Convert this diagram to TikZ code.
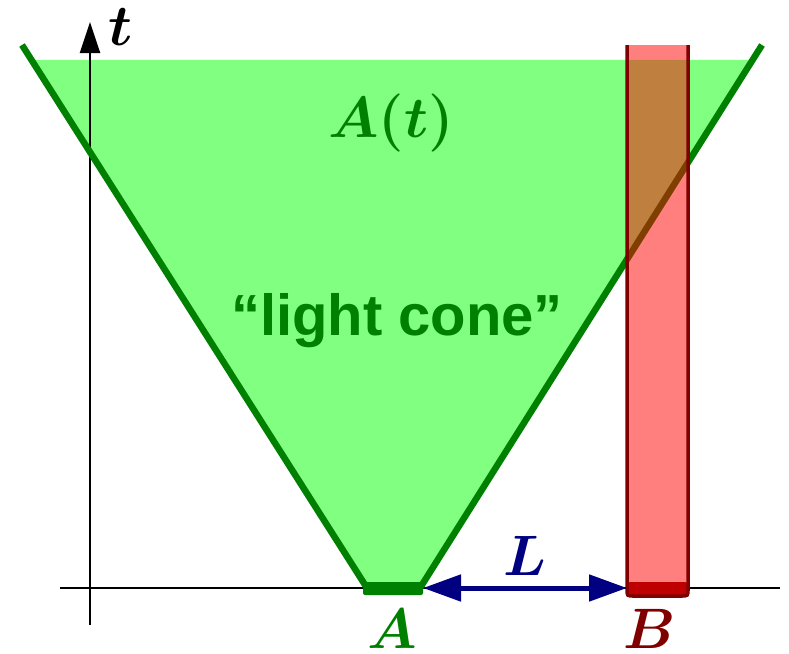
\RequirePackage{fix-cm}
\documentclass[tikz,border=0pt]{standalone}
\usepackage{fontspec}
\newfontfamily\helv{Liberation Sans}
\usetikzlibrary{arrows.meta,calc}
\definecolor{conegreen}{RGB}{0,128,0}
\definecolor{conefill}{RGB}{128,255,128}
\definecolor{bandred}{RGB}{128,0,0}
\definecolor{navyblue}{RGB}{0,0,128}
\tikzset{
  conestroke/.style={draw=conegreen, line width=6.5pt},
  axisline/.style={draw=black, line width=2.4pt},
  bigmath/.style={inner sep=0pt, anchor=base, font=\fontsize{57}{60}\selectfont\boldmath},
  midmath/.style={inner sep=0pt, anchor=base, font=\fontsize{58}{62}\selectfont\boldmath},
}
\begin{document}
\begin{tikzpicture}[x=1pt,y=-1pt]
\useasboundingbox (0,0) rectangle (789,653);
% key points
\coordinate (Abl) at (367,588);
\coordinate (Abr) at (420,588);
\coordinate (Ltop) at (22,45);
\coordinate (Rtop) at (762,45);
\coordinate (Lcut) at ($(Abl)!0.9724!(Ltop)$);
\coordinate (Rcut) at ($(Abr)!0.9724!(Rtop)$);
% cone fill
\fill[conefill] (Abl) -- (Abr) -- (Rcut) -- (Lcut) -- cycle;
% axes
\coordinate (xs) at (60,588);
\coordinate (xe) at (780,588);
\coordinate (ys) at (90,625);
\coordinate (ye) at (90,22);
\draw[axisline] (xs) -- (xe);
\draw[axisline, -{Triangle[length=31pt,width=20pt]}] (ys) -- (ye);
% cone lines
\draw[conestroke] (Ltop) -- (Abl);
\draw[conestroke] (Abr) -- (Rtop);
% A interval
\fill[conegreen, rounded corners=2pt] (363,582) rectangle (423,595);
% B interval
\fill[bandred, rounded corners=3pt] (627,582) rectangle (688,596);
% band B(t)
\fill[red, fill opacity=0.5] (627,45) -- (627,589) .. controls (627,596) .. (634,596) -- (681,596) .. controls (688,596) .. (688,589) -- (688,45) -- cycle;
\draw[bandred, line width=3.5pt] (627,45) -- (627,589) .. controls (627,596) .. (634,596) -- (681,596) .. controls (688,596) .. (688,589) -- (688,45);
% L arrow
\coordinate (Aend) at (423,588);
\coordinate (Bend) at (627,588);
\draw[navyblue, line width=5pt, {Triangle[length=38pt,width=26pt]}-{Triangle[length=38pt,width=26pt]}] (Aend) -- (Bend);
% labels
\node[bigmath, text=navyblue] (Llab) at (525,575) {$L$};
\node[bigmath, text=conegreen] (Alab) at (392,648) {$A$};
\node[bigmath, text=bandred] (Blab) at (650,648) {$B$};
\node[midmath, text=conegreen] (Atlab) at (391,137) {$A(t)$};
\node[midmath, text=black] (tlab) at (121,45) {$t$};
\node[inner sep=0pt, anchor=base, text=conegreen, font=\helv\bfseries\fontsize{58}{62}\selectfont] (lc) at (397,335) {“light cone”};
\end{tikzpicture}
\end{document}
